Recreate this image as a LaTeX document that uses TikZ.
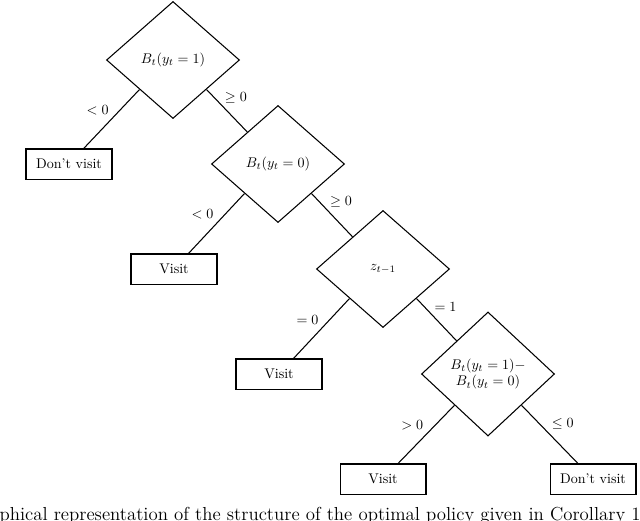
\documentclass[tikz,border=0pt]{standalone}
\usetikzlibrary{shapes.geometric}
\begin{document}
\begin{tikzpicture}[x=0.712pt,y=-0.712pt,
  every path/.style={line width=0.75pt},
  dec/.style={draw, diamond, inner sep=1pt, minimum width=94.7pt, minimum height=83.3pt, align=center},
  leaf/.style={draw, rectangle, inner sep=1pt, minimum width=61.2pt, minimum height=21.4pt},
  lblL/.style={midway, inner sep=0pt, shift={(-14,-9)}},
  lblR/.style={midway, inner sep=0pt, shift={(9,-13)}},
  lblRb/.style={midway, inner sep=0pt, shift={(13,-10)}}]
\useasboundingbox (0,0) rectangle (640,520);
\node[dec] (D1) at (173,60) {$B_t(y_t=1)$};
\node[dec] (D2) at (278,164) {$B_t(y_t=0)$};
\node[dec] (D3) at (383,269) {$z_{t-1}$};
\node[dec, minimum height=88.3pt] (D4) at (488,374) {$B_t(y_t=1)-$\\$B_t(y_t=0)$};
\node[leaf] (B1) at (69,164) {Don't visit};
\node[leaf] (B2) at (174,269) {Visit};
\node[leaf] (B3) at (279,374) {Visit};
\node[leaf] (B4) at (383,479) {Visit};
\node[leaf] (B5) at (593,479) {Don't visit};
\draw (D1.south west) -- (B1) node[lblL] {$<0$};
\draw (D1.south east) -- (D2) node[lblR] {$\geq 0$};
\draw (D2.south west) -- (B2) node[lblL] {$<0$};
\draw (D2.south east) -- (D3) node[lblR] {$\geq 0$};
\draw (D3.south west) -- (B3) node[lblL] {$=0$};
\draw (D3.south east) -- (D4) node[lblR] {$=1$};
\draw (D4.south west) -- (B4) node[lblL] {$>0$};
\draw (D4.south east) -- (B5) node[lblRb] {$\leq 0$};
\node[anchor=base west, inner sep=0pt, font=\fontsize{13.4pt}{16pt}\selectfont] (cap) at (-1,520) {phical representation of the structure of the optimal policy given in Corollary 1};
\end{tikzpicture}
\end{document}
